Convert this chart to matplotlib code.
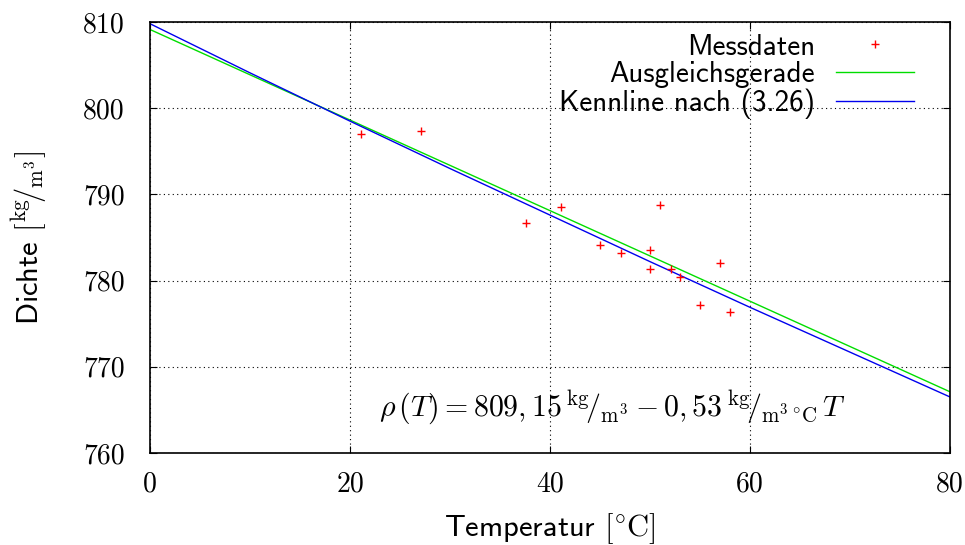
import matplotlib
matplotlib.use("Agg")
import matplotlib.pyplot as plt
import numpy as np

plt.rcParams['mathtext.fontset'] = 'cm'
plt.rcParams['axes.unicode_minus'] = False

# Data
temp = [21.1, 27.1, 37.6, 41.1, 45.0, 47.1, 50.0, 51.0, 50.0, 52.1, 53.0, 57.0, 55.0, 58.0]
dichte = [797.0, 797.35, 786.7, 788.5, 784.1, 783.2, 783.5, 788.8, 781.3, 781.4, 780.4, 782.0, 777.2, 776.3]
fit_x = [0, 80]
fit_y = [809.13, 767.1]          # Ausgleichsgerade
kenn_x = [0, 10, 20, 30, 40, 50, 60, 70, 80]
kenn_y = [809.8, 804.1, 798.5, 793.0, 787.6, 782.2, 776.9, 771.7, 766.5]   # Kennline nach (3.26)
xticks = [0, 20, 40, 60, 80]
yticks = [760, 770, 780, 790, 800, 810]

fig = plt.figure(figsize=(9.65, 5.45), dpi=100)
ax = fig.add_axes([150/965, 1-453/545, 800/965, 431/545])

ax.plot(temp, dichte, linestyle='none', marker='+', color='red', markersize=6,
        markeredgewidth=1.0, label='Messdaten', zorder=3)
ax.plot(fit_x, fit_y, color='#00dd00', lw=1.0, label='Ausgleichsgerade')
ax.plot(kenn_x, kenn_y, color='#0000ee', lw=1.0, label='Kennline nach (3.26)')

ax.set_xlim(0, 80)
ax.set_ylim(760, 810)
ax.set_xticks(xticks)
ax.set_yticks(yticks)
ax.set_xticklabels([str(v) for v in xticks], fontfamily='cmr10', fontsize=20)
ax.set_yticklabels([str(v) for v in yticks], fontfamily='cmr10', fontsize=20)
ax.tick_params(direction='in', top=True, right=True, length=5, width=0.8)
ax.tick_params(axis='x', pad=13)
ax.tick_params(axis='y', pad=18)
ax.grid(True, color='black', linestyle=(0, (1, 3)), linewidth=0.8)
for s in ax.spines.values():
    s.set_linewidth(1.2)

ax.set_xlabel(r'Temperatur $[{}^{\circ}\mathrm{C}]$', fontfamily='cmss10', fontsize=22, labelpad=10)
ax.set_ylabel(r'Dichte $[{}^{\mathrm{kg}}\!/_{\mathrm{m}^{3}}]$', fontfamily='cmss10', fontsize=22, labelpad=25)

leg = ax.legend(loc='upper right', frameon=False, markerfirst=False,
                prop={'family': 'cmss10', 'size': 21}, handlelength=2.7,
                labelspacing=0.02, borderaxespad=0.0, handletextpad=0.7,
                bbox_to_anchor=(0.97, 1.0))
for t in leg.get_texts():
    t.set_ha('right')
leg._legend_box.align = 'right'

ax.text(46.2, 765.2,
        r'$\rho\,(T) = 809,15\,{}^{\mathrm{kg}}\!/_{\mathrm{m}^{3}} - 0,53\,{}^{\mathrm{kg}}\!/_{\mathrm{m}^{3}\,{}^{\circ}\mathrm{C}}\,T$',
        fontsize=21.5, ha='center', va='center')

fig.savefig('out.png', dpi=100)
